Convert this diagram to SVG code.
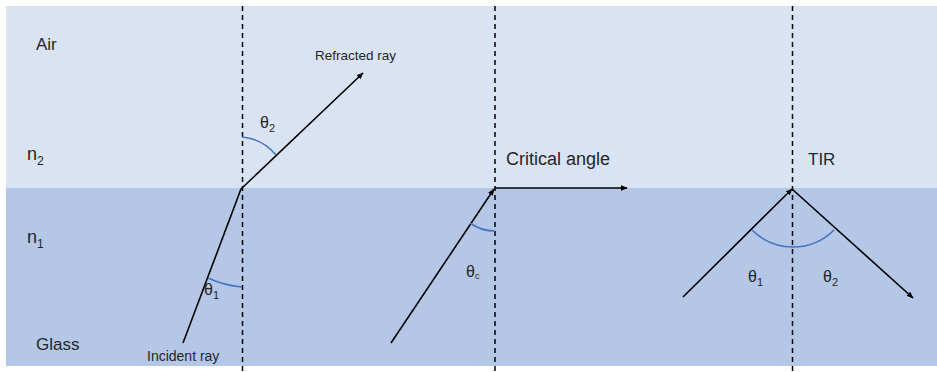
<svg xmlns="http://www.w3.org/2000/svg" width="937" height="372" viewBox="0 0 937 372">
<style>
.t{font-family:"Liberation Sans",Arial,sans-serif;fill:#262626}
.ray{stroke:#000;stroke-width:1.6;fill:none}
.nrm{stroke:#000;stroke-width:1.5;stroke-dasharray:5,4;fill:none}
.arc{stroke:#4472C4;stroke-width:1.6;fill:none}
</style>
<defs>
<marker id="ah" viewBox="0 0 10 10" refX="9" refY="5" markerWidth="7" markerHeight="7" markerUnits="userSpaceOnUse" orient="auto">
<path d="M0,1 L10,5 L0,9 z" fill="#000"/>
</marker>
</defs>
<rect x="0" y="0" width="937" height="372" fill="#fff"/>
<rect id="air" x="6" y="6" width="931" height="182" fill="#DAE3F3"/>
<rect id="glass" x="6" y="188" width="931" height="178" fill="#B4C7E7"/>
<g id="labels">
<text class="t" x="36" y="50" font-size="17">Air</text>
<text class="t" x="27" y="160" font-size="18">n<tspan font-size="12" dy="5">2</tspan></text>
<text class="t" x="27" y="243" font-size="18">n<tspan font-size="12" dy="5">1</tspan></text>
<text class="t" x="36" y="350" font-size="17">Glass</text>
</g>
<g id="connectors">
<line class="nrm" x1="242.5" y1="6" x2="242.5" y2="372"/>
<line class="nrm" x1="495" y1="6" x2="495" y2="372"/>
<line class="nrm" x1="792.5" y1="6" x2="792.5" y2="372"/>
<line class="ray" x1="183" y1="343" x2="241" y2="189"/>
<line class="ray" x1="241" y1="189" x2="363" y2="73" marker-end="url(#ah)"/>
<line class="ray" x1="391" y1="343" x2="494" y2="189" marker-end="url(#ah)"/>
<line class="ray" x1="495" y1="188" x2="627" y2="188" marker-end="url(#ah)"/>
<line class="ray" x1="683" y1="297" x2="792" y2="189" marker-end="url(#ah)"/>
<line class="ray" x1="792" y1="189" x2="913" y2="298" marker-end="url(#ah)"/>
</g>
<g id="panel-refraction">
<path class="arc" d="M242,137 A50,50 0 0 1 276,155"/>
<path class="arc" d="M208,278 A100,100 0 0 0 242,287"/>
<text class="t" x="315" y="60" font-size="13.5">Refracted ray</text>
<text class="t" x="147" y="361" font-size="14">Incident ray</text>
<text class="t" x="260" y="128" font-size="16">θ<tspan font-size="11" dy="4">2</tspan></text>
<text class="t" x="204" y="295" font-size="16">θ<tspan font-size="11" dy="4">1</tspan></text>
</g>
<g id="panel-critical">
<path class="arc" d="M470,223 A43,43 0 0 0 495,231"/>
<text class="t" x="466" y="277" font-size="16">θ<tspan font-size="9" dy="2">c</tspan></text>
<text class="t" x="506" y="165" font-size="18">Critical angle</text>
</g>
<g id="panel-tir">
<path class="arc" d="M752,230 A58,58 0 0 0 834,230"/>
<text class="t" x="748" y="282" font-size="16">θ<tspan font-size="11" dy="4">1</tspan></text>
<text class="t" x="823" y="282" font-size="16">θ<tspan font-size="11" dy="4">2</tspan></text>
<text class="t" x="808" y="165" font-size="17">TIR</text>
</g>
</svg>
